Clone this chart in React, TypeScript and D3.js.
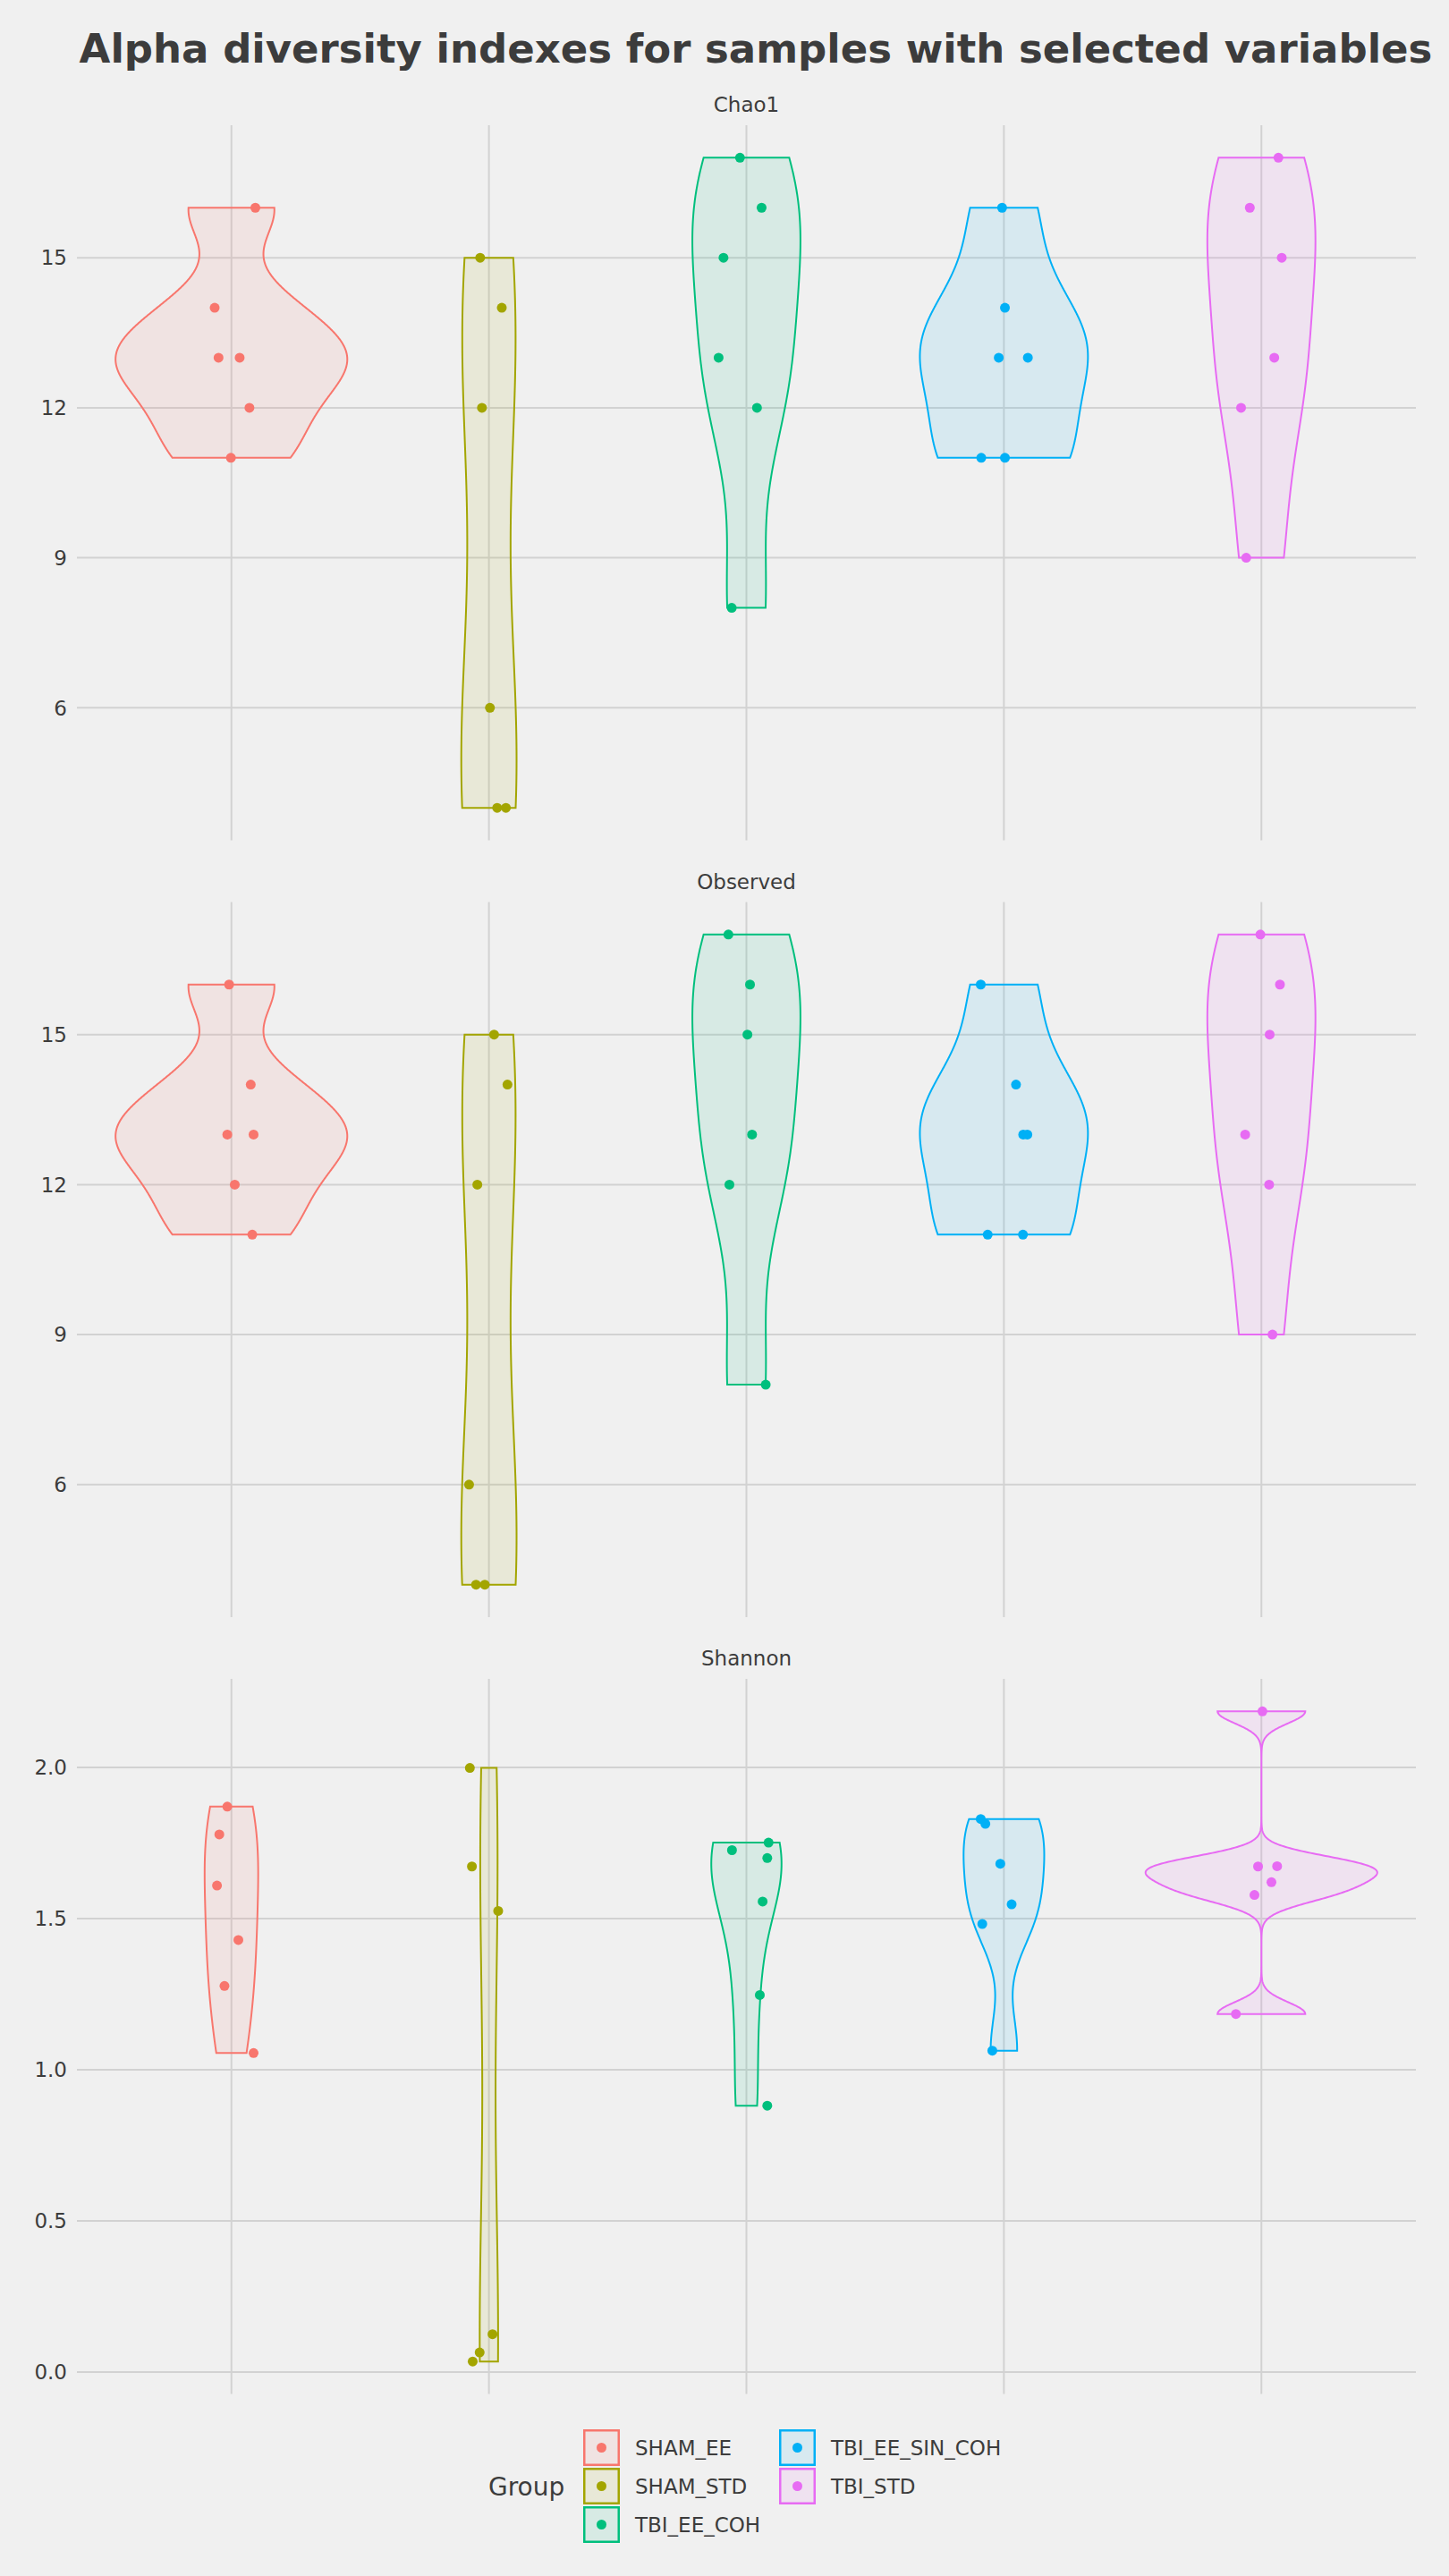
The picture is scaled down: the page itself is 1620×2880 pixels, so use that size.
import * as d3 from 'd3'

const groups = ['SHAM_EE', 'SHAM_STD', 'TBI_EE_COH', 'TBI_EE_SIN_COH', 'TBI_STD']
const groupColors = ['#F8766D', '#A3A500', '#00BF7D', '#00B0F6', '#E76BF3']

const metrics = ['Chao1', 'Observed', 'Shannon']

// values per group
const chao1Values = [
  [16, 14, 13, 13, 12, 11],
  [15, 14, 12, 6, 4, 4],
  [17, 16, 15, 13, 12, 8],
  [16, 14, 13, 13, 11, 11],
  [17, 16, 15, 13, 12, 9],
]
// horizontal jitter, as a share of the category step
const chao1Jitter = [
  [0.093, -0.065, -0.05, 0.032, 0.07, -0.002],
  [-0.034, 0.05, -0.027, 0.004, 0.032, 0.066],
  [-0.025, 0.059, -0.089, -0.108, 0.041, -0.057],
  [-0.007, 0.004, -0.02, 0.093, -0.088, 0.004],
  [0.066, -0.045, 0.079, 0.05, -0.079, -0.059],
]

const observedValues = [
  [16, 14, 13, 13, 12, 11],
  [15, 14, 12, 6, 4, 4],
  [17, 16, 15, 13, 12, 8],
  [16, 14, 13, 13, 11, 11],
  [17, 16, 15, 13, 12, 9],
]
const observedJitter = [
  [-0.009, 0.075, -0.016, 0.086, 0.013, 0.081],
  [0.02, 0.072, -0.045, -0.077, -0.05, -0.016],
  [-0.07, 0.014, 0.004, 0.022, -0.066, 0.075],
  [-0.09, 0.047, 0.075, 0.091, -0.063, 0.074],
  [-0.004, 0.072, 0.032, -0.063, 0.03, 0.043],
]

const shannonValues = [
  [1.87, 1.778, 1.609, 1.429, 1.277, 1.055],
  [1.998, 1.672, 1.525, 0.125, 0.065, 0.035],
  [1.751, 1.726, 1.7, 1.556, 1.247, 0.881],
  [1.829, 1.813, 1.681, 1.547, 1.482, 1.063],
  [2.185, 1.672, 1.673, 1.62, 1.578, 1.184],
]
const shannonJitter = [
  [-0.016, -0.047, -0.056, 0.027, -0.027, 0.086],
  [-0.074, -0.066, 0.036, 0.014, -0.036, -0.063],
  [0.086, -0.056, 0.081, 0.063, 0.052, 0.081],
  [-0.09, -0.072, -0.014, 0.03, -0.084, -0.045],
  [0.004, -0.013, 0.061, 0.039, -0.027, -0.099],
]

const countTicks = [6, 9, 12, 15]
const shannonTicks = [0, 0.5, 1, 1.5, 2]

const W = 1620
const H = 2880
const plotLeft = 86
const plotRight = 1583
const panelTops = [140, 1008.5, 1877]
const panelH = 799.5
const textColor = '#3C3C3C'
const gridColor = '#D2D2D2'
const font = 'DejaVu Sans, sans-serif'

// gaussian kde with R's bw.nrd0, evaluated between min and max (trim = TRUE)
function density(values: number[]) {
  const n = values.length
  const sorted = [...values].sort(d3.ascending)
  const sd = d3.deviation(sorted) || 0
  const iqr = (d3.quantileSorted(sorted, 0.75) as number) - (d3.quantileSorted(sorted, 0.25) as number)
  let lo = Math.min(sd, iqr / 1.34)
  if (!lo) lo = sd || Math.abs(sorted[0]) || 1
  const bw = 0.9 * lo * Math.pow(n, -0.2)
  const [mn, mx] = d3.extent(sorted) as [number, number]
  return d3.range(512).map(i => {
    const y = mn + ((mx - mn) * i) / 511
    const d = d3.sum(sorted, v => Math.exp(-0.5 * ((y - v) / bw) ** 2)) / (n * bw * Math.sqrt(2 * Math.PI))
    return { y, d }
  })
}

interface PanelProps {
  label: string
  top: number
  values: number[][]
  jitter: number[][]
  ticks: number[]
  fmt: (v: number) => string
}

function Panel({ label, top, values, jitter, ticks, fmt }: PanelProps) {
  const x = d3.scalePoint<string>().domain(groups).range([plotLeft, plotRight]).padding(0.6)
  const step = x.step()
  const all = values.flat()
  const [mn, mx] = d3.extent(all) as [number, number]
  const pad = (mx - mn) * 0.05
  const y = d3.scaleLinear().domain([mn - pad, mx + pad]).range([top + panelH, top])

  const dens = values.map(density)
  const maxD = d3.max(dens, g => d3.max(g, p => p.d)) as number
  const half = step * 0.45

  const line = d3.line<[number, number]>()

  return (
    <g>
      <text x={(plotLeft + plotRight) / 2} y={top - 15} textAnchor="middle" fontSize={23} fill={textColor}>
        {label}
      </text>
      {ticks.map(t => (
        <g key={t}>
          <line x1={plotLeft} x2={plotRight} y1={y(t)} y2={y(t)} stroke={gridColor} strokeWidth={2} />
          <text x={75} y={y(t)} dy="0.36em" textAnchor="end" fontSize={23} fill={textColor}>
            {fmt(t)}
          </text>
        </g>
      ))}
      {groups.map(g => (
        <line key={g} x1={x(g)} x2={x(g)} y1={top} y2={top + panelH} stroke={gridColor} strokeWidth={2} />
      ))}
      {groups.map((g, i) => {
        const cx = x(g) as number
        const left = dens[i].map(p => [cx - (p.d / maxD) * half, y(p.y)] as [number, number])
        const right = dens[i].map(p => [cx + (p.d / maxD) * half, y(p.y)] as [number, number]).reverse()
        return (
          <path
            key={g}
            d={line([...left, ...right]) + 'Z'}
            fill={groupColors[i]}
            fillOpacity={0.1}
            stroke={groupColors[i]}
            strokeWidth={2}
          />
        )
      })}
      {groups.map((g, i) =>
        values[i].map((v, j) => (
          <circle
            key={g + j}
            cx={(x(g) as number) + jitter[i][j] * step}
            cy={y(v)}
            r={5.5}
            fill={groupColors[i]}
          />
        ))
      )}
    </g>
  )
}

function Legend() {
  const keyX = [652, 871]
  const keyY = [2716, 2759, 2802]
  const size = 41
  return (
    <g>
      <text x={546} y={2790} fontSize={28} fill={textColor}>
        Group
      </text>
      {groups.map((g, i) => {
        const col = Math.floor(i / 3)
        const row = i % 3
        const kx = keyX[col]
        const ky = keyY[row]
        return (
          <g key={g}>
            <rect
              x={kx + 1.25}
              y={ky + 1.25}
              width={size - 2.5}
              height={size - 2.5}
              fill={groupColors[i]}
              fillOpacity={0.1}
              stroke={groupColors[i]}
              strokeWidth={2.5}
            />
            <circle cx={kx + size / 2} cy={ky + size / 2} r={5.5} fill={groupColors[i]} />
            <text x={kx + 58} y={ky + size / 2} dy="0.36em" fontSize={23} fill={textColor}>
              {g}
            </text>
          </g>
        )
      })}
    </g>
  )
}

export default function App() {
  const panelValues = [chao1Values, observedValues, shannonValues]
  const panelJitter = [chao1Jitter, observedJitter, shannonJitter]
  const panelTicks = [countTicks, countTicks, shannonTicks]
  const fmts = [d3.format('d'), d3.format('d'), d3.format('.1f')]

  return (
    <svg
      width={W}
      height={H}
      style={{ position: 'absolute', left: 0, top: 0, display: 'block' }}
      fontFamily={font}
    >
      <rect width={W} height={H} fill="#F0F0F0" />
      <text x={845} y={70} textAnchor="middle" fontSize={45} fontWeight="bold" fill={textColor}>
        Alpha diversity indexes for samples with selected variables
      </text>
      {metrics.map((m, i) => (
        <Panel
          key={m}
          label={m}
          top={panelTops[i]}
          values={panelValues[i]}
          jitter={panelJitter[i]}
          ticks={panelTicks[i]}
          fmt={fmts[i]}
        />
      ))}
      <Legend />
    </svg>
  )
}
